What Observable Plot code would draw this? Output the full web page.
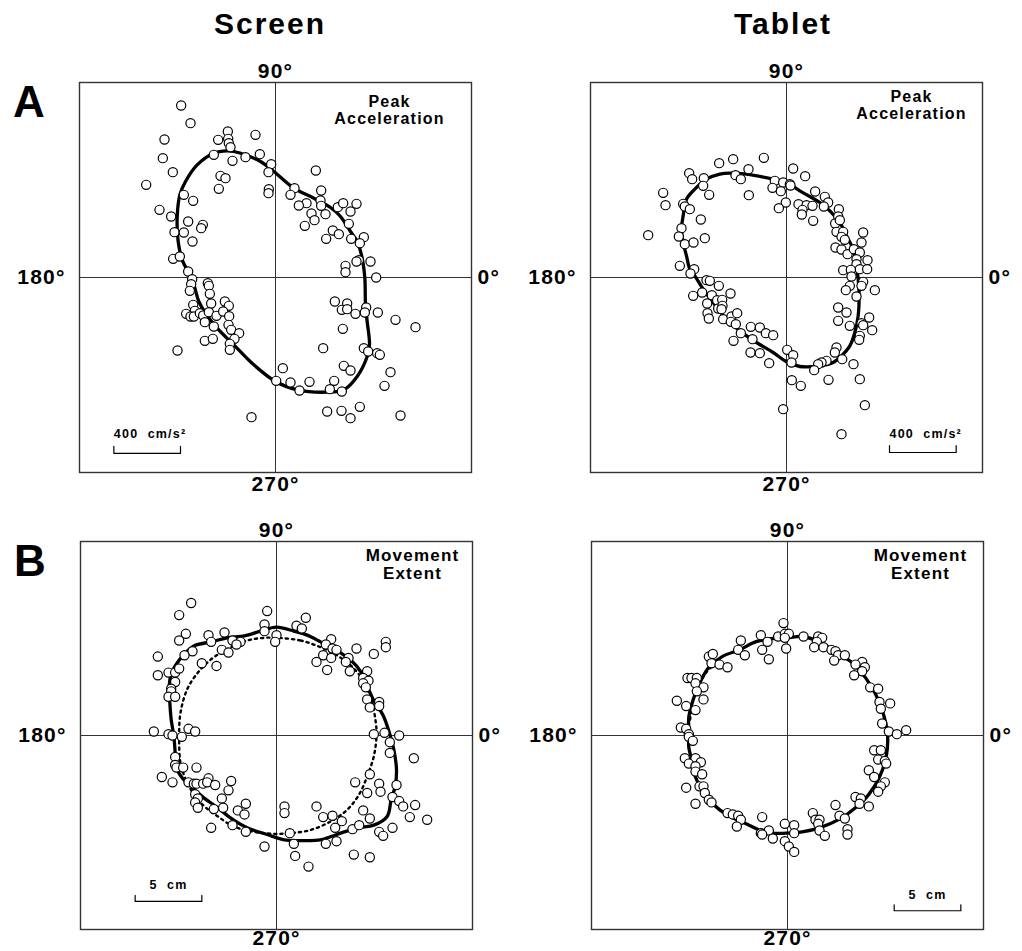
<!DOCTYPE html>
<html><head><meta charset="utf-8">
<script src="https://cdn.jsdelivr.net/npm/d3@7"></script>
<script src="https://cdn.jsdelivr.net/npm/@observablehq/plot@0.6"></script>
<style>
body{margin:0;background:#fff;font-family:"Liberation Sans",Arial,Helvetica,sans-serif;}
#fig{position:relative;width:1022px;height:951px;overflow:hidden;background:#fff}
.panel{position:absolute}
.lbl{position:absolute;font-weight:bold;color:#000;line-height:1;white-space:nowrap}
</style></head><body><div id="fig"></div>
<script>
// ---------- Titles ----------
const columnTitles = ["Screen", "Tablet"];
const rowLetters = ["A", "B"];
const angleLabels = {right: "0°", top: "90°", left: "180°", bottom: "270°"};
const measureLabels = ["Peak\nAcceleration", "Movement\nExtent"];

// ---------- A: Peak acceleration (cm/s²), Screen ----------
const screenAccelPoints = [[-566,1032],[-510,926],[-666,828],[-676,716],[-616,632],[-776,556],[-696,406],[-626,366],[-606,272],[-614,112],[-574,126],[-524,36],[-500,-10],[-506,-40],[-514,-80],[-550,496],[-494,460],[-524,336],[-550,270],[-498,216],[-436,316],[-446,296],[-344,826],[-286,876],[-284,832],[-280,806],[-270,782],[-370,736],[-258,700],[-180,722],[-120,856],[-94,740],[-26,680],[-42,632],[-330,610],[-300,596],[-340,532],[-40,530],[-42,506],[242,642],[114,536],[90,496],[274,522],[270,462],[274,430],[186,446],[140,432],[216,384],[300,380],[234,344],[176,310],[374,422],[406,446],[486,442],[450,396],[440,322],[344,282],[380,260],[304,232],[454,232],[530,242],[506,206],[500,104],[486,96],[570,96],[420,70],[420,32],[604,0],[-406,-34],[-400,-50],[-394,-98],[-386,-156],[-304,-144],[-280,-170],[-494,-164],[-484,-200],[-536,-218],[-510,-234],[-490,-234],[-454,-214],[-434,-228],[-400,-208],[-354,-230],[-314,-204],[-278,-232],[-424,-268],[-370,-294],[-282,-284],[-266,-314],[-218,-334],[-246,-368],[-424,-380],[-376,-368],[-274,-398],[-274,-434],[-588,-438],[356,-144],[430,-156],[398,-194],[430,-190],[480,-218],[544,-180],[536,-210],[614,-210],[720,-254],[840,-298],[404,-308],[286,-424],[530,-424],[556,-444],[610,-454],[626,-464],[690,-568],[654,-650],[44,-544],[4,-620],[90,-630],[144,-678],[204,-626],[352,-620],[326,-670],[398,-684],[410,-530],[450,-558],[310,-804],[396,-800],[450,-844],[506,-776],[750,-828],[-144,-838]];
const screenAccelCurve = [[-290,760],[-370,746],[-470,676],[-540,576],[-574,496],[-590,356],[-584,216],[-560,106],[-520,26],[-490,-44],[-460,-144],[-420,-214],[-350,-304],[-250,-404],[-130,-524],[0,-624],[130,-674],[310,-688],[410,-674],[490,-594],[550,-474],[564,-404],[550,-264],[540,-164],[536,-4],[520,116],[490,216],[450,276],[390,366],[330,420],[230,476],[110,536],[-10,636],[-90,696],[-170,732],[-250,756]];

// ---------- A: Peak acceleration (cm/s²), Tablet ----------
const tabletAccelPoints = [[-320,710],[-136,718],[-404,686],[-584,626],[-566,590],[-496,596],[-500,550],[-306,614],[-274,590],[-228,650],[40,654],[112,608],[-70,580],[-20,570],[20,560],[-84,538],[-34,518],[24,552],[-226,494],[-464,496],[-740,508],[-726,434],[-620,442],[-610,426],[-580,410],[-514,348],[-630,296],[-646,246],[-610,200],[-558,210],[-490,236],[-830,254],[-640,70],[-554,50],[-576,24],[-4,450],[-46,416],[72,440],[120,434],[96,406],[92,378],[156,430],[172,516],[230,484],[250,450],[224,426],[314,410],[310,366],[160,340],[292,324],[320,344],[300,274],[340,274],[330,244],[350,226],[460,270],[450,210],[294,180],[330,168],[366,140],[404,170],[440,150],[420,110],[486,104],[420,80],[440,50],[484,50],[340,44],[386,46],[390,6],[460,-26],[450,-50],[530,-76],[380,-50],[356,-76],[420,-114],[310,-180],[360,-210],[310,-260],[380,-290],[496,-240],[450,-274],[460,-286],[514,-316],[440,-350],[436,-374],[402,-520],[440,-610],[470,-766],[330,-940],[334,-490],[300,-420],[290,-450],[240,-500],[210,-510],[190,-520],[166,-556],[252,-614],[32,-616],[86,-650],[-20,-790],[4,-434],[40,-466],[30,-510],[-480,-16],[-460,-20],[-406,-50],[-336,-96],[-506,-90],[-560,-110],[-448,-106],[-476,-156],[-416,-136],[-386,-134],[-410,-186],[-384,-170],[-474,-214],[-466,-246],[-380,-250],[-330,-234],[-296,-214],[-334,-266],[-304,-280],[-214,-296],[-160,-300],[-124,-334],[-80,-346],[-274,-334],[-204,-370],[-318,-380],[-216,-450],[-160,-454],[-104,-514],[-390,-190]];
const tabletAccelCurve = [[-340,626],[-240,620],[-80,590],[0,570],[80,520],[200,450],[260,400],[320,330],[360,250],[400,170],[420,70],[430,-10],[436,-110],[430,-230],[410,-330],[380,-410],[330,-470],[280,-510],[200,-530],[80,-534],[0,-506],[-80,-450],[-180,-390],[-280,-320],[-360,-250],[-440,-150],[-500,-70],[-550,10],[-580,50],[-600,130],[-620,210],[-630,290],[-620,370],[-600,470],[-550,530],[-480,590],[-400,620]];

// ---------- B: Movement extent (cm), Screen ----------
const screenExtentPoints = [[-6.4,9.9],[-7.3,9.0],[-6.8,7.6],[-7.3,7.1],[-0.7,9.3],[2.2,8.8],[1.5,8.2],[1.9,8.0],[-0.9,8.3],[-0.9,7.8],[0,7.5],[-0.1,7.0],[-3.9,7.7],[-5.1,7.5],[-4.9,7.0],[-3.3,7.1],[-2.7,7.0],[-3.0,6.8],[-4.1,6.4],[-3.6,6.2],[-6.3,6.3],[-6.9,6.0],[-8.9,5.9],[-5.6,5.4],[-4.5,5.2],[-8.9,4.5],[-8.1,4.7],[-7.6,4.7],[-7.3,5.0],[-7.6,4.0],[-7.9,3.5],[-7.9,3.3],[-8.1,2.9],[-7.6,2.9],[4.1,7.2],[3.7,6.8],[4.2,6.5],[4.5,6.4],[6.0,6.5],[7.3,6.1],[8.2,7.0],[8.2,6.6],[3.5,6.0],[4.1,5.8],[3.0,5.5],[5.4,5.8],[5.2,5.5],[5.5,4.8],[3.8,4.9],[6.8,4.8],[6.5,4.3],[6.9,4.1],[6.5,3.9],[6.7,3.6],[6.8,2.7],[7.0,2.1],[7.7,2.5],[7.7,2.2],[-9.2,0.3],[-8.1,0.1],[-7.8,0],[-7.1,-0.1],[-6.6,0.5],[-6.1,0.3],[7.3,0.1],[8.1,0.2],[9.2,0],[8.5,-0.5],[8.5,-1.3],[10.3,-1.7],[-7.6,-1.6],[-7.6,-2.2],[-7.5,-2.4],[-7.0,-2.4],[-6.0,-2.4],[-8.6,-3.1],[-7.8,-3.5],[-6.6,-3.5],[-6.2,-3.6],[-6.0,-3.6],[-5.5,-3.6],[-5.1,-3.2],[-5.2,-3.5],[-4.6,-3.7],[-3.4,-3.4],[-3.6,-4.1],[7.0,-2.9],[5.9,-3.5],[7.7,-3.6],[6.8,-4.3],[7.8,-4.2],[9.0,-3.7],[8.7,-4.6],[-6.1,-4.4],[-5.9,-4.7],[-6.1,-5.0],[-5.9,-5.4],[-4.1,-4.7],[-4.7,-5.5],[-4.0,-5.4],[-2.3,-5.1],[-2.9,-5.6],[-2.4,-5.9],[-4.9,-6.9],[-3.3,-6.7],[-2.3,-7.2],[0.6,-5.3],[0.6,-5.8],[3.0,-5.3],[3.5,-6.1],[4.2,-6.0],[4.9,-6.4],[4.4,-6.9],[6.5,-5.6],[7.0,-6.2],[5.7,-7.0],[6.2,-6.7],[9.2,-4.9],[9.5,-5.3],[10.4,-5.2],[10.0,-6.1],[11.3,-6.3],[8.7,-6.9],[7.7,-7.2],[8.0,-7.5],[1.0,-7.3],[1.3,-8.1],[1.4,-9.0],[-0.9,-8.3],[2.4,-9.8],[3.7,-8.1],[4.5,-7.9],[5.8,-8.9],[7.0,-9.1]];
const screenExtentCurve = [[0,8.1],[1.3,7.8],[2.3,7.5],[3.3,7.0],[4.6,6.3],[5.6,5.6],[6.3,4.8],[6.8,3.7],[7.3,2.6],[8.0,1.5],[8.5,0.1],[8.8,-1.05],[9.0,-2.55],[8.9,-3.8],[8.6,-4.8],[8.3,-6.05],[7.3,-6.7],[6.1,-6.9],[4.8,-7.3],[4.1,-7.55],[3.3,-7.8],[1.8,-7.85],[0.6,-7.8],[-0.7,-7.4],[-2.2,-6.9],[-3.4,-6.2],[-4.4,-5.4],[-5.4,-4.7],[-6.3,-3.9],[-7.05,-3.2],[-7.55,-2.3],[-7.6,-1.3],[-7.7,-0.05],[-7.9,1.2],[-8.0,2.45],[-8.05,3.7],[-7.9,4.6],[-7.6,5.2],[-6.9,6.1],[-6.2,6.7],[-4.9,7.0],[-3.7,7.3],[-2.4,7.45],[-1.2,7.8]];
const screenExtentTarget = [[0,7.3],[1.8,7.1],[3.3,6.6],[4.6,5.95],[5.6,5.2],[6.45,4.2],[7.1,2.7],[7.45,0.95],[7.5,-0.05],[7.3,-1.55],[6.8,-3.05],[6.2,-4.4],[5.3,-5.55],[4.1,-6.4],[2.6,-7.05],[1.1,-7.3],[-0.2,-7.35],[-1.7,-7.2],[-3.2,-6.8],[-4.4,-6.05],[-5.4,-5.3],[-6.2,-4.4],[-6.8,-3.3],[-7.2,-2.05],[-7.3,-0.05],[-7.2,1.7],[-6.7,3.45],[-5.9,4.7],[-4.9,5.7],[-3.7,6.45],[-2.2,7.1],[-0.9,7.3]];

// ---------- B: Movement extent (cm), Tablet ----------
const tabletExtentPoints = [[-0.3,8.4],[-0.7,7.4],[-0.2,7.6],[0.1,7.6],[-0.2,7.3],[-0.1,6.5],[-2.0,7.5],[-1.5,7.0],[-1.9,6.4],[-1.4,5.7],[-3.5,7.1],[-3.7,6.4],[-3.2,6.0],[1.2,7.4],[2.3,7.4],[2.6,7.3],[2.2,7.0],[2.0,6.6],[2.7,6.6],[3.3,6.4],[3.6,6.3],[3.8,6.0],[4.3,6.0],[3.5,5.6],[-5.9,5.9],[-5.6,6.1],[-5.7,5.4],[-5.1,5.3],[-4.5,5.1],[5.6,5.5],[5.1,5.3],[5.8,5.1],[5.6,4.8],[5.0,4.5],[-7.5,4.3],[-7.2,4.3],[-6.8,4.3],[-6.9,3.9],[-6.3,3.6],[-6.8,3.3],[-6.3,2.7],[-8.3,2.6],[-7.6,2.2],[-6.9,1.9],[6.2,3.6],[6.8,3.5],[6.9,2.5],[7.7,2.4],[7.0,2.0],[7.1,0.9],[7.6,0.3],[8.2,0.1],[8.9,0.4],[-8.0,0.6],[-7.6,0.5],[-7.4,0.1],[-7.4,-0.1],[-7.1,-0.4],[6.5,-1.1],[7.0,-1.1],[6.8,-1.8],[7.3,-1.9],[7.4,-2.1],[-7.7,-1.7],[-6.9,-1.7],[-6.5,-2.0],[-7.4,-2.1],[-6.9,-2.3],[-6.9,-2.7],[-6.4,-2.9],[6.1,-2.6],[6.5,-3.1],[7.3,-3.5],[7.0,-3.8],[6.8,-4.2],[-7.6,-3.9],[-6.6,-3.8],[-6.3,-3.8],[-6.2,-4.3],[-5.9,-4.8],[-5.7,-5.0],[-6.9,-5.1],[5.1,-4.6],[5.5,-4.7],[5.4,-5.1],[6.1,-5.3],[3.6,-5.2],[-4.5,-5.8],[-4.1,-5.9],[-3.7,-6.0],[-3.5,-6.3],[-3.8,-6.8],[-1.9,-6.1],[1.9,-5.8],[2.1,-6.3],[2.4,-6.3],[3.9,-6.0],[4.3,-6.2],[2.3,-6.6],[2.4,-7.1],[2.8,-7.5],[4.5,-7.0],[4.5,-7.4],[-0.2,-6.6],[0.5,-6.7],[0.5,-7.3],[-2.0,-7.3],[-1.4,-7.1],[-1.9,-7.4],[-1.1,-7.7],[-0.2,-7.9],[0.1,-8.3],[0.5,-8.7]];
const tabletExtentCurve = [[0,7.3],[1.1,7.4],[2.4,7.0],[3.6,6.25],[4.9,5.4],[5.9,4.25],[6.6,3.1],[7.1,1.9],[7.5,0.1],[7.4,-1.6],[6.9,-3.1],[6.1,-4.4],[5.1,-5.4],[3.9,-6.25],[2.4,-6.9],[1.1,-7.2],[-0.1,-7.3],[-1.6,-7.25],[-3.1,-6.6],[-4.6,-5.9],[-5.6,-5.1],[-6.4,-4.1],[-6.9,-3.1],[-7.1,-2.1],[-7.4,-0.9],[-7.4,0.4],[-7.4,1.4],[-7.0,2.9],[-6.5,4.1],[-5.9,5.1],[-4.9,5.9],[-3.6,6.4],[-2.4,7.0],[-1.1,7.25]];
// short dotted trace visible just inside the tablet curve at upper left
const tabletExtentTarget = [[-7.3,1.2],[-7.1,2.6],[-6.7,3.7],[-6.1,4.7],[-5.3,5.5]];

// ---------- Scale bars ----------
const scaleBars = {
  screenAccel: {x: -970, y: -1055, length: 400, tick: 42, text: "400\u00a0\u00a0cm/s²", anchor: "start"},
  tabletAccel: {x: 618, y: -1050, length: 400, tick: 42, text: "400\u00a0\u00a0cm/s²", anchor: "start"},
  screenExtent: {x: -10.6, y: -12.4, length: 5, tick: 0.45, text: "5\u00a0\u00a0cm", anchor: "middle"},
  tabletExtent: {x: 8.0, y: -13.1, length: 5, tick: 0.45, text: "5\u00a0\u00a0cm", anchor: "middle"}
};

const FONT = '"Liberation Sans", Arial, Helvetica, sans-serif';
const fig = document.getElementById("fig");

function makePanel(cfg) {
  const {points, curve, target, targetOpen, xMax, yMax, bar, measure, mDx, mDy, mSize,
         left, top, height, mt, mb, ml, mr, labelSize, bottomDy} = cfg;
  const px = d => d[0], py = d => d[1];
  const marks = [
    Plot.ruleX([0], {stroke: "#333", strokeWidth: 1}),
    Plot.ruleY([0], {stroke: "#333", strokeWidth: 1}),
    Plot.frame({stroke: "#333", strokeWidth: 1.4})
  ];
  if (target) marks.push(Plot.line(target, {x: px, y: py, curve: targetOpen ? "catmull-rom" : "catmull-rom-closed", stroke: "#000", strokeWidth: 2.4, strokeDasharray: "2.2,4"}));
  marks.push(Plot.line(curve, {x: px, y: py, curve: "catmull-rom-closed", stroke: "#000", strokeWidth: 3.3, strokeLinejoin: "round"}));
  marks.push(Plot.dot(points, {x: px, y: py, r: 4.6, fill: "white", stroke: "#000", strokeWidth: 1.2}));
  // scale bar
  marks.push(Plot.line([[bar.x, bar.y + bar.tick], [bar.x, bar.y], [bar.x + bar.length, bar.y], [bar.x + bar.length, bar.y + bar.tick]],
    {x: px, y: py, stroke: "#000", strokeWidth: 1.2}));
  marks.push(Plot.text([bar], {x: d => d.anchor === "start" ? d.x : d.x + d.length / 2, y: d => d.y, text: d => d.text,
    textAnchor: bar.anchor, lineAnchor: "bottom", dy: bar.anchor === "start" ? -15 : -12, fontSize: 12.5, fontWeight: "bold"}));
  // measure label
  marks.push(Plot.text([measure], {frameAnchor: "top-right", dx: mDx, dy: mDy, textAnchor: "middle", lineAnchor: "bottom",
    lineHeight: 1.05, fontSize: mSize, fontWeight: "bold"}));
  // angle labels
  marks.push(Plot.text([angleLabels.top], {frameAnchor: "top", dy: -5, lineAnchor: "bottom", fontSize: labelSize, fontWeight: "bold"}));
  marks.push(Plot.text([angleLabels.bottom], {frameAnchor: "bottom", dy: bottomDy, lineAnchor: "top", fontSize: labelSize, fontWeight: "bold"}));
  marks.push(Plot.text([angleLabels.left], {frameAnchor: "left", dx: -14, textAnchor: "end", lineAnchor: "middle", fontSize: labelSize, fontWeight: "bold"}));
  marks.push(Plot.text([angleLabels.right], {frameAnchor: "right", dx: 6, textAnchor: "start", lineAnchor: "middle", fontSize: labelSize, fontWeight: "bold"}));

  const svg = Plot.plot({
    width: 511, height, marginTop: mt, marginBottom: mb, marginLeft: ml, marginRight: mr,
    x: {domain: [-xMax, xMax], axis: null},
    y: {domain: [-yMax, yMax], axis: null},
    style: {background: "transparent", fontFamily: FONT, letterSpacing: "1.2px", color: "#000", overflow: "visible"},
    marks
  });
  const wrap = document.createElement("div");
  wrap.className = "panel";
  wrap.style.left = left + "px";
  wrap.style.top = top + "px";
  wrap.appendChild(svg);
  fig.appendChild(wrap);
}

makePanel({points: screenAccelPoints, curve: screenAccelCurve, xMax: 1176, yMax: 1170, bar: scaleBars.screenAccel,
  measure: measureLabels[0], mDx: -82, mDy: 41, mSize: 16, left: 0, top: 0, height: 500, mt: 82, mb: 28, ml: 79, mr: 40, labelSize: 21, bottomDy: 4});
makePanel({points: tabletAccelPoints, curve: tabletAccelCurve, xMax: 1176, yMax: 1170, bar: scaleBars.tabletAccel,
  measure: measureLabels[0], mDx: -71, mDy: 36, mSize: 16, left: 511, top: 0, height: 500, mt: 82, mb: 28, ml: 79, mr: 40, labelSize: 21, bottomDy: 4});
makePanel({points: screenExtentPoints, curve: screenExtentCurve, target: screenExtentTarget, xMax: 14.7, yMax: 14.5, bar: scaleBars.screenExtent,
  measure: measureLabels[1], mDx: -60, mDy: 37, mSize: 17, left: 0, top: 500, height: 451, mt: 41, mb: 22, ml: 80, mr: 39, labelSize: 21, bottomDy: 1});
makePanel({points: tabletExtentPoints, curve: tabletExtentCurve, target: tabletExtentTarget, targetOpen: true, xMax: 14.7, yMax: 14.5, bar: scaleBars.tabletExtent,
  measure: measureLabels[1], mDx: -63, mDy: 37, mSize: 17, left: 511, top: 500, height: 451, mt: 41, mb: 22, ml: 80, mr: 39, labelSize: 21, bottomDy: 1});

// HTML titles and panel letters
function addLabel(text, x, baseline, size, spacing, align) {
  const d = document.createElement("div");
  d.className = "lbl";
  d.textContent = text;
  d.style.fontSize = size + "px";
  d.style.letterSpacing = spacing + "px";
  const top = baseline - (size * 0.905 + (size - size * 1.117) / 2);
  d.style.top = top + "px";
  if (align === "center") { d.style.left = (x - 150) + "px"; d.style.width = "300px"; d.style.textAlign = "center"; }
  else d.style.left = x + "px";
  fig.appendChild(d);
}
addLabel(columnTitles[0], 270, 34, 30, 2, "center");
addLabel(columnTitles[1], 783, 34, 30, 2, "center");
addLabel(rowLetters[0], 13, 117, 44, 0, "left");
addLabel(rowLetters[1], 14, 576, 44, 0, "left");
</script></body></html>
